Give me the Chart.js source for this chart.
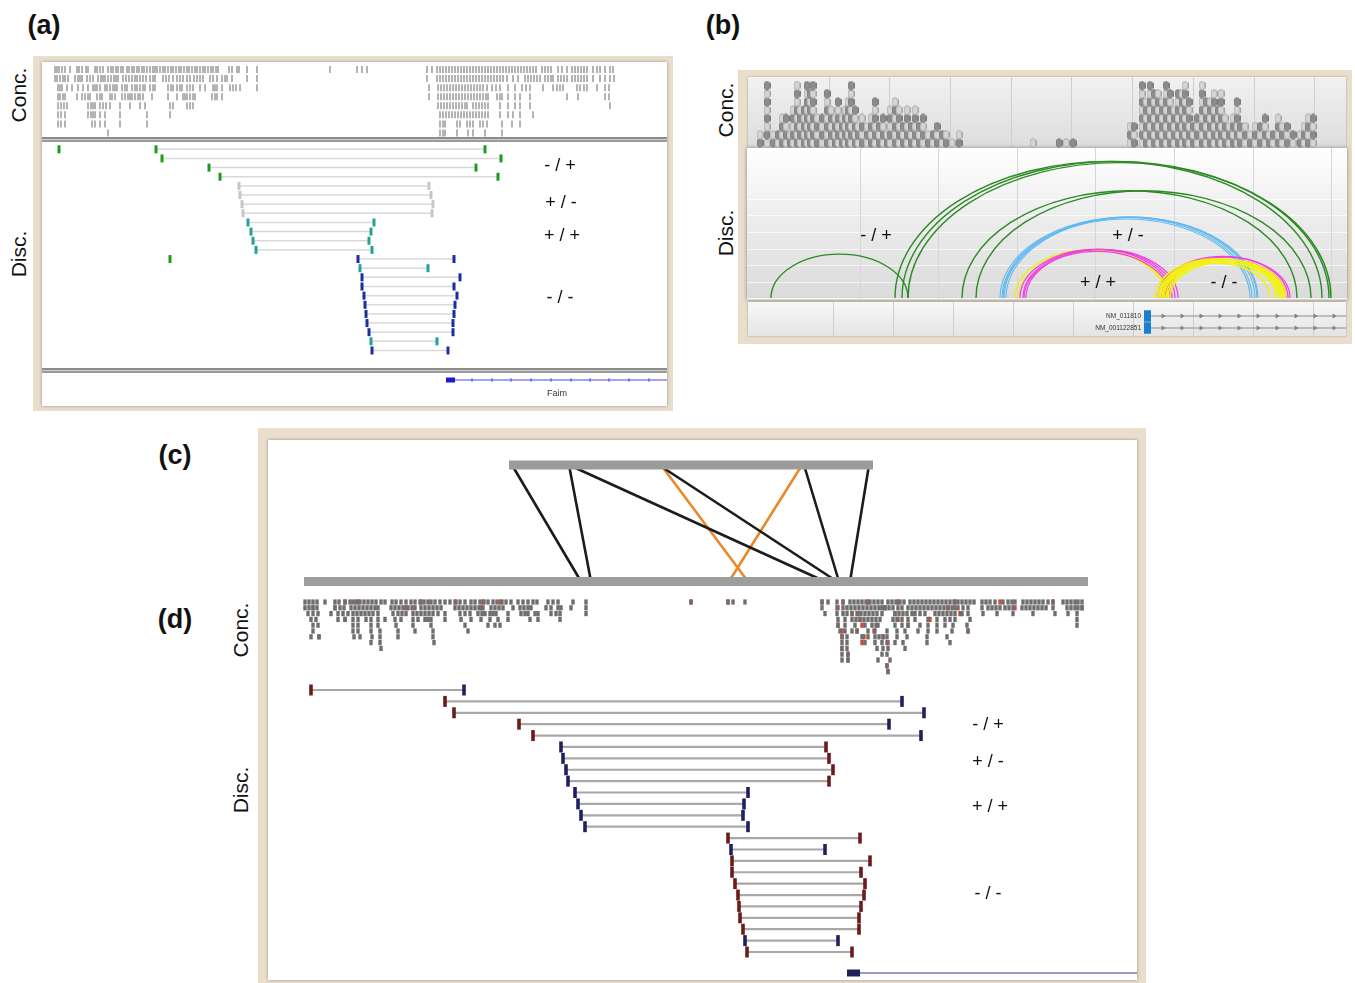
<!DOCTYPE html>
<html>
<head>
<meta charset="utf-8">
<script src="https://cdn.jsdelivr.net/npm/chart.js@4.4.1/dist/chart.umd.min.js"></script>
<style>
html, body { margin: 0; padding: 0; background: #fff; overflow: hidden; }
#page { position: relative; width: 1355px; height: 983px; overflow: hidden; font-family: "Liberation Sans", Arial, sans-serif; }
.d { position: absolute; box-sizing: border-box; }
.t { position: absolute; white-space: nowrap; transform: translate(-50%, -50%); color: #111; line-height: 1; }
.t.rot { transform: translate(-50%, -50%) rotate(-90deg); }
canvas { position: absolute; }
</style>
</head>
<body>
<div id="page"></div>
<script>
// ---------- (a) IGV view: concordant reads, one array of read positions per row ----------
const aConcRows = [
  [55,57,59,62,65,70,77,79,82,86,88,95,97,100,103,108,111,113,116,118,121,123,127,129,132,134,137,139,142,144,147,150,153,155,157,160,163,165,168,171,173,176,179,181,184,187,189,192,195,197,200,203,205,208,211,213,216,218,229,232,237,239,247,257,
   330,357,362,367,
   427,432,437,440,443,446,449,452,455,458,461,464,467,470,473,476,479,482,485,488,491,494,497,500,503,506,509,512,515,518,521,524,527,530,533,536,542,545,548,551,558,562,567,572,575,578,581,584,587,593,597,600,605,610,613],
  [55,57,60,63,65,68,75,78,80,82,87,90,93,98,101,103,105,108,111,114,116,118,123,126,129,132,135,137,140,143,146,150,153,155,163,166,169,173,177,180,183,187,190,194,197,200,203,210,213,217,222,225,227,232,247,257,
   427,437,440,443,446,449,452,455,458,461,464,467,470,473,476,479,482,485,488,491,494,497,500,503,507,513,518,525,528,531,534,537,540,545,548,551,553,558,561,564,567,572,575,578,581,584,587,593,600,605,610,614],
  [58,60,62,67,72,78,83,88,93,95,97,100,105,107,110,113,115,117,122,125,127,132,135,137,140,143,145,150,153,155,168,171,173,177,180,182,187,190,193,200,205,213,215,217,222,230,233,236,240,257,
   429,438,441,444,447,450,453,456,459,462,465,468,471,474,477,480,483,487,492,496,500,508,515,522,526,530,543,553,557,560,563,577,580,584,587,597,605,609],
  [58,60,63,65,77,82,85,88,90,97,100,102,110,112,115,122,125,128,130,132,135,138,140,143,152,168,177,183,185,187,190,193,195,212,215,217,222,
   429,438,441,444,447,450,453,456,459,462,465,468,471,474,477,480,483,486,488,497,500,502,508,515,520,530,567,578,605,609],
  [58,61,64,67,88,91,93,95,100,103,106,110,120,130,140,145,170,173,187,190,193,
   438,441,444,447,450,453,456,459,462,465,467,473,476,479,482,485,488,500,508,515,520,530,610],
  [58,61,65,88,91,93,95,100,105,120,147,170,
   440,443,446,449,452,455,458,461,464,467,470,473,476,479,482,485,488,500,508,513,520,533],
  [58,61,65,92,95,100,105,120,147,
   440,443,445,457,460,467,470,473,480,483,487,502,512,520],
  [108, 440,443,445,457,468,473,485,502]
];

// (a) discordant pairs, one per row: left mate, right mate, orientation
const aPairLeft  = [156,162,209,220,239,240,242,243,248,251,253,256,358,360,362,362,364,365,366,367,369,371,372];
const aPairRight = [485,501,476,498,429,431,433,432,374,371,369,372,454,428,460,454,457,455,454,453,453,437,448];
const aPairType  = ['-/+','-/+','-/+','-/+','+/-','+/-','+/-','+/-','+/+','+/+','+/+','+/+',
                    '-/-','+/+','-/-','-/-','-/-','-/-','-/-','-/-','-/-','+/+','-/-'];
const aSingles   = [[0, 59], [12, 170]];          // [row, position] mates without partner
const aGeneExon  = [446, 455];
const aGeneEnd   = 667;
const aGeneTicks = [472,492,511,531,551,571,590,609,629,649];
const aGeneName  = 'Faim';

// ---------- (b) arc view ----------
const bPileLeft = [[760,2],[767,8],[773,2],[778,2],[782,4],[786,4],[790,2],[793,5],[797,8],[800,5],[804,5],[807,8],[810,7],[813,8],
  [817,4],[822,4],[827,7],[831,5],[835,4],[838,6],[842,4],[845,5],[848,6],[851,8],[855,5],[858,3],[862,4],[867,3],[871,4],[875,6],
  [879,3],[883,4],[887,2],[890,5],[895,6],[899,5],[903,3],[907,5],[911,3],[915,5],[919,3],[923,4],[928,2],[933,2],[937,3],[942,2],
  [946,2],[952,1],[959,2]];
const bPileMid = [[1033,1],[1059,1],[1066,1],[1073,1]];
const bPileRight = [[1130,3],[1134,3],[1142,8],[1146,6],[1150,8],[1154,7],[1158,7],[1162,6],[1166,8],[1170,7],[1174,5],[1178,7],
  [1182,7],[1185,8],[1189,6],[1193,3],[1197,4],[1202,8],[1206,6],[1210,6],[1214,7],[1218,5],[1221,7],[1225,4],[1229,3],[1233,4],
  [1237,6],[1240,3],[1245,3],[1250,2],[1255,3],[1260,3],[1265,4],[1269,2],[1273,2],[1278,4],[1282,3],[1287,3],[1293,2],[1300,2],
  [1304,3],[1308,4],[1313,4]];

const bArcsGreen     = [[771,908],[895,1322],[902,1329],[908,1331],[962,1297],[976,1311]];
const bArcsBlue      = [[1000,1252],[1002,1255],[1004,1257],[1006,1258],[1003,1250]];
const bArcsYellowPP  = [[1015,1166],[1019,1168]];
const bArcsMagentaPP = [[1020,1172],[1023,1175],[1026,1178],[1024,1170]];
const bArcsMagentaMM = [[1158,1288],[1162,1290],[1165,1286]];
const bArcsYellowMM  = [[1155,1278],[1158,1280],[1160,1282],[1162,1283],[1164,1284],[1166,1286],[1163,1276],[1168,1280],[1170,1282],[1160,1270]];

const bTranscripts = ['NM_011810', 'NM_001122851'];
const bExon        = [1144, 1151];
const bGeneEnd     = 1346;
const bStrandMarks = [1163,1182,1201,1220,1239,1258,1277,1296,1315,1334];

// ---------- (c) reference vs genome ----------
const cRefBar     = [509, 873];
const cGenomeBar  = [304, 1088];
const cLinkTop    = [[512,569],[569,659],[804,869],[661,802]];
const cLinkBottom = [[581,591],[825,837],[839,850],[748,729]];
const cLinkColor  = ['#1c1c1c','#1c1c1c','#1c1c1c','#e8892c'];

// ---------- (d) IGV view ----------
const dConcRows = [
  [305,309,313,317,325,335,339,345,350,353,356,360,364,368,372,376,381,385,392,396,401,406,411,415,420,424,428,431,435,440,445,450,455,460,465,471,475,480,484,488,493,497,502,506,511,518,523,528,533,537,548,553,558,573,586,
   691,728,733,745,
   822,828,837,843,850,854,858,862,866,870,874,878,882,888,892,896,900,904,910,914,918,922,926,930,934,938,942,946,950,954,958,962,966,970,974,982,986,990,995,1003,1008,1012,1015,1023,1027,1031,1035,1039,1043,1048,1053,1063,1067,1071,1075,1078,1082],
  [305,309,313,317,335,340,344,351,355,359,363,367,371,375,378,391,395,399,403,408,412,415,421,425,429,433,437,441,455,459,463,467,471,475,479,483,491,495,499,503,513,520,524,528,531,546,551,558,561,571,586,
   822,837,843,847,851,855,859,863,867,871,875,879,882,885,889,893,898,902,908,912,916,920,924,928,932,936,940,944,948,952,955,958,963,968,982,988,992,996,1000,1005,1009,1013,1022,1026,1030,1034,1038,1042,1046,1053,1067,1071,1075,1078,1082],
  [308,313,318,331,338,343,348,353,357,361,365,369,373,378,393,398,402,406,413,417,421,425,429,433,438,445,460,465,470,478,482,485,490,493,496,508,521,525,528,535,538,551,556,560,586,
   825,837,843,847,852,857,861,865,869,873,877,882,895,899,903,907,912,915,920,925,935,939,943,947,951,955,962,968,983,997,1013,1033,1055,1068,1077],
  [311,316,338,345,353,358,366,371,378,385,395,401,413,418,425,428,431,445,461,471,481,490,498,508,530,538,560,
   838,845,852,856,860,864,868,872,876,880,893,897,902,908,915,928,937,945,950,955,970,1077],
  [313,318,353,358,371,378,396,413,431,465,488,495,500,
   838,845,855,865,872,876,878,895,902,908,920,928,937,945,953,967,1077],
  [313,353,358,371,380,398,415,433,468,
   840,845,852,857,868,875,887,897,905,918,928,937,952,968],
  [311,319,354,360,372,380,398,433,
   842,847,862,868,875,879,883,887,897,907,927,947],
  [371,380,434, 842,847,865,875,882,887,895,903,927,950],
  [381, 842,847,877,883,888,905],
  [842,848,882,887],
  [842,848,878,890],
  [887],
  [888]
];
const dConcMismatch = [[0,345],[0,358],[0,421],[0,456],[0,483],[0,500],[0,691],[0,728],[1,313],[1,335],[1,406],[1,481],[3,345],[6,319],
  [0,822],[0,843],[0,868],[0,898],[0,955],[0,1000],[0,1053],[1,838],[1,885],[1,948],[1,1015],[1,1082],[2,852],[2,858],[2,895],[2,960],
  [3,860],[3,898],[3,930],[4,838],[4,862],[4,908],[5,842],[5,857],[5,874],[5,968],[6,842],[6,864],[6,883],[7,862],[7,888],[8,842],
  [9,848],[10,848],[11,887],[12,888]];

const dPairLeft  = [311,445,454,519,533,561,563,566,568,575,578,581,585,728,731,732,732,735,738,739,740,743,745,747];
const dPairRight = [464,902,924,889,921,826,829,833,829,748,744,743,748,860,825,870,861,865,864,861,859,859,838,852];
const dPairType  = ['-/+','-/+','-/+','-/+','-/+','+/-','+/-','+/-','+/-','+/+','+/+','+/+','+/+',
                    '-/-','+/+','-/-','-/-','-/-','-/-','-/-','-/-','-/-','+/+','-/-'];
const dGeneExon = [847, 860];
const dGeneEnd  = 1137;

const orientLabels = ['- / +', '+ / -', '+ / +', '- / -'];

// ================= layout helpers =================
const page = document.getElementById('page');

function box(x, y, w, h, css) {
  const el = document.createElement('div');
  el.className = 'd';
  el.style.cssText = `left:${x}px;top:${y}px;width:${w}px;height:${h}px;` + (css || '');
  page.appendChild(el);
  return el;
}
function text(str, cx, cy, size, extra, rotate) {
  const el = document.createElement('div');
  el.className = 't' + (rotate ? ' rot' : '');
  el.textContent = str;
  el.style.left = cx + 'px';
  el.style.top = cy + 'px';
  el.style.fontSize = size + 'px';
  if (extra) el.style.cssText += extra;
  page.appendChild(el);
}
// y axis range that puts value v0 at pixel p0 and v1 at pixel p1 inside a canvas of given height
function yAxis(v0, p0, v1, p1, size) {
  const k = (p1 - p0) / (v1 - v0);
  if (k > 0) { const min = v0 - p0 / k; return { min, max: min + size / k, reverse: true }; }
  const kk = -k, max = v0 + p0 / kk;
  return { min: max - size / kk, max, reverse: false };
}
function chartAt(x, y, w, h, yr, datasets, plugins) {
  const cv = document.createElement('canvas');
  cv.width = w; cv.height = h;
  cv.style.cssText = `left:${x}px;top:${y}px;width:${w}px;height:${h}px;`;
  page.appendChild(cv);
  return new Chart(cv, {
    type: 'scatter',
    data: { datasets },
    options: {
      responsive: false, animation: false, events: [],
      layout: { padding: 0, autoPadding: false },
      plugins: { legend: { display: false }, tooltip: { enabled: false }, colors: { enabled: false } },
      scales: {
        x: { type: 'linear', display: false, bounds: 'data', min: x, max: x + w },
        y: { type: 'linear', display: false, bounds: 'data', min: yr.min, max: yr.max, reverse: yr.reverse }
      }
    },
    plugins: plugins || []
  });
}
function rowPoints(rows) {
  return rows.flatMap((r, i) => r.map(p => ({ x: p, y: i })));
}
function readSet(points, color, r, w) {
  return { data: points, pointStyle: 'line', pointRotation: 90, pointRadius: r, pointHoverRadius: r,
           pointBorderWidth: w, pointBorderColor: color, pointBackgroundColor: color, borderColor: color, clip: false };
}
function pairSets(left, right, type, colorOf, line, lineW, r, w) {
  return left.map((l, i) => ({
    data: [{ x: l, y: i }, { x: right[i], y: i }],
    showLine: true, borderColor: line, borderWidth: lineW,
    pointStyle: 'line', pointRotation: 90, pointRadius: r, pointHoverRadius: r,
    pointBorderWidth: w, pointBorderColor: colorOf(type[i]), pointBackgroundColor: 'transparent', clip: false
  }));
}
function segSet(from, to, yv, color, width) {
  return { data: [{ x: from, y: yv }, { x: to, y: yv }], showLine: true, borderColor: color,
           borderWidth: width, borderCapStyle: 'butt', pointRadius: 0, clip: false };
}

// ================= panel frames =================
const BEIGE = '#e9ddcb';
// (a)
box(33, 56, 640, 355, `background:${BEIGE};`);
box(42, 62, 625, 344, 'background:#fff;box-shadow:0 0 3px rgba(0,0,0,0.35);');
const sepCss = 'border-top:2px solid #8b8b8b;border-bottom:2px solid #9a9a9a;background:#d0d0d0;';
box(42, 137, 625, 5, sepCss);
box(42, 368, 625, 5, sepCss);
// (b)
box(738, 70, 614, 274, `background:${BEIGE};`);
box(748, 77, 598, 72,
  'background-image:repeating-linear-gradient(90deg,transparent 0 59.7px,#cfcfcf 59.7px 60.7px),linear-gradient(#f1f1f1,#dcdcdc);' +
  'background-position:21px 0,0 0;box-shadow:0 0 2px rgba(0,0,0,0.3);');
box(747, 148, 600, 152,
  'background-image:repeating-linear-gradient(90deg,transparent 0 77.6px,#d6d6d6 77.6px 78.6px),' +
  'repeating-linear-gradient(180deg,transparent 0 15.6px,rgba(255,255,255,0.7) 15.6px 16.6px),' +
  'linear-gradient(#ffffff 0%,#fafafa 12%,#ededed 45%,#dadada 100%);' +
  'background-position:35px 0,0 2px,0 0;box-shadow:0 0 4px rgba(0,0,0,0.4);');
box(748, 302, 598, 34, 'background-image:repeating-linear-gradient(90deg,transparent 0 59px,#cfcfcf 59px 60px),' +
  'linear-gradient(#f7f7f7,#e4e4e4);background-position:26px 0,0 0;box-shadow:0 0 2px rgba(0,0,0,0.3);');
// (c)/(d)
box(258, 428, 888, 560, `background:${BEIGE};`);
box(268, 440, 869, 540, 'background:#fff;box-shadow:0 0 3px rgba(0,0,0,0.35);');

// ================= charts =================
const ORIENT_A = { '-/+': '#1e9a1e', '+/-': '#c6c6c6', '+/+': '#21a39a', '-/-': '#1b2da3' };
const STRAND_D = { '-': '#6b1b1b', '+': '#20205e' };

// (a) concordant
chartAt(42, 62, 625, 76, yAxis(0, 7.5, 7, 71, 76),
  [readSet(rowPoints(aConcRows), '#b3b3b3', 3.5, 2)]);

// (a) discordant
chartAt(42, 143, 625, 225, yAxis(0, 6.3, 22, 207.5, 225), [
  ...pairSets(aPairLeft, aPairRight, aPairType, t => [ORIENT_A[t], ORIENT_A[t]], '#d9d9d9', 1.5, 4, 3),
  readSet(aSingles.map(([r, p]) => ({ x: p, y: r })), ORIENT_A['-/+'], 4, 3)
]);

// (a) gene track
chartAt(42, 373, 625, 33, yAxis(0, 7, 1, 17, 33), [
  segSet(aGeneExon[1], aGeneEnd, 0, '#4646ee', 1),
  segSet(aGeneExon[0], aGeneExon[1], 0, '#1a1ac8', 5),
  readSet(aGeneTicks.map(p => ({ x: p, y: 0 })), '#4646ee', 1.8, 1)
]);

// (b) concordant read piles with read glyphs
function glyph(fill, stroke) {
  const g = document.createElement('canvas');
  g.width = 7; g.height = 10;
  const c = g.getContext('2d');
  c.beginPath();
  c.moveTo(3.5, 0.5); c.lineTo(6.5, 2.5); c.lineTo(6.5, 7.5); c.lineTo(3.5, 9.5); c.lineTo(0.5, 7.5); c.lineTo(0.5, 2.5); c.closePath();
  c.fillStyle = fill; c.fill();
  c.strokeStyle = stroke; c.lineWidth = 1; c.stroke();
  return g;
}
const darkGlyph = glyph('#8c8c8c', '#7a7a7a');
const lightGlyph = glyph('#d4d4d4', '#a2a2a2');
const bPiles = [...bPileLeft, ...bPileMid, ...bPileRight];
const bReads = bPiles.flatMap(([p, n], ci) => Array.from({ length: n }, (_, l) => ({ x: p, y: l, dark: (l + ci) % 2 === 0 })));
chartAt(748, 77, 598, 71, yAxis(0, 66, 1, 57.8, 71), [{
  data: bReads, pointRadius: 4, pointHoverRadius: 4, clip: false,
  pointStyle: c => (c.raw && c.raw.dark) ? darkGlyph : lightGlyph
}]);

// (b) discordant arcs
const arcPlugin = {
  id: 'pairArcs',
  afterDatasetsDraw(chart) {
    const { ctx, scales: { x, y } } = chart;
    const base = y.getPixelForValue(0);
    chart.data.datasets.forEach(ds => {
      ctx.save();
      ctx.strokeStyle = ds.borderColor;
      ctx.lineWidth = ds.borderWidth;
      ds.arcs.forEach(([s, e]) => {
        const x0 = x.getPixelForValue(s), x1 = x.getPixelForValue(e);
        const rx = (x1 - x0) / 2;
        ctx.beginPath();
        ctx.ellipse(x0 + rx, base, rx, rx * 0.64, 0, Math.PI, 2 * Math.PI);
        ctx.stroke();
      });
      ctx.restore();
    });
  }
};
const arcSet = (arcs, color, w) => ({ arcs, borderColor: color, borderWidth: w, pointRadius: 0,
  data: arcs.flatMap(([s, e]) => [{ x: s, y: 0 }, { x: e, y: 0 }]) });
chartAt(748, 148, 598, 152, yAxis(0, 150, 1, 0, 152), [
  arcSet(bArcsGreen, '#2b8a23', 1.4),
  arcSet(bArcsBlue, '#5fb9f0', 1.1),
  arcSet(bArcsYellowPP, '#eeee10', 1.3),
  arcSet(bArcsMagentaPP, '#ee3fe0', 1.2),
  arcSet(bArcsMagentaMM, '#ee3fe0', 1.2),
  arcSet(bArcsYellowMM, '#f2f20e', 1.4)
], [arcPlugin]);

// (b) gene track
chartAt(748, 302, 598, 34, yAxis(0, 14, 1, 26, 34), [
  ...bTranscripts.map((_, i) => segSet(bExon[1], bGeneEnd, i, '#8c8c8c', 1)),
  ...bTranscripts.map((_, i) => segSet(bExon[0], bExon[1], i, '#1a7fd0', 11.5)),
  ...bTranscripts.map((_, i) => ({ data: bStrandMarks.map(p => ({ x: p, y: i })), pointStyle: 'triangle', pointRotation: 90,
      pointRadius: 2.3, pointHoverRadius: 2.3, pointBackgroundColor: '#777', pointBorderColor: '#777', pointBorderWidth: 0.5, clip: false }))
]);

// (c) reference-to-genome links
chartAt(268, 440, 869, 150, yAxis(1, 25, 0, 141.5, 150), [
  segSet(cRefBar[0], cRefBar[1], 1, '#9b9b9b', 9),
  segSet(cGenomeBar[0], cGenomeBar[1], 0, '#9d9d9d', 9),
  ...cLinkTop.map((t, i) => ({
    data: [{ x: t[0], y: 1 }, { x: cLinkBottom[i][0], y: 0 }, { x: cLinkBottom[i][1], y: 0 }, { x: t[1], y: 1 }, { x: t[0], y: 1 }],
    showLine: true, borderColor: cLinkColor[i], borderWidth: 2.6, borderJoinStyle: 'round', pointRadius: 0, clip: false
  }))
]);

// (d) concordant
chartAt(268, 596, 869, 84, yAxis(0, 6, 12, 75.6, 84), [
  readSet(rowPoints(dConcRows), '#6e6e6e', 2.6, 3.4),
  readSet(dConcMismatch.map(([r, p]) => ({ x: p, y: r })), '#d04a36', 2.6, 3.4)
]);

// (d) discordant
chartAt(268, 682, 869, 280, yAxis(0, 8, 23, 270, 280),
  pairSets(dPairLeft, dPairRight, dPairType, t => [STRAND_D[t[0]], STRAND_D[t[2]]], '#a8a8a8', 2.2, 5.5, 3.6));

// (d) gene track
chartAt(268, 964, 869, 16, yAxis(0, 9, 1, 0, 16), [
  segSet(dGeneExon[1], dGeneEnd, 0, '#7a7ab8', 1.5),
  segSet(dGeneExon[0], dGeneExon[1], 0, '#1f1f5c', 7)
]);

// ================= text =================
text('(a)', 44, 25, 27, 'font-weight:bold;');
text('(b)', 723, 25, 27, 'font-weight:bold;');
text('(c)', 175, 455, 27, 'font-weight:bold;');
text('(d)', 175, 619, 27, 'font-weight:bold;');

text('Conc.', 18, 95, 21, '', true);
text('Disc.', 18, 254, 21, '', true);
text('Conc.', 725, 110, 21, '', true);
text('Disc.', 725, 233, 21, '', true);
text('Conc.', 240, 630, 21, '', true);
text('Disc.', 240, 790, 21, '', true);

[[560, 165], [561, 202], [562, 235], [560, 297]].forEach(([x, y], i) => text(orientLabels[i], x, y, 18));
[[876, 235], [1128, 235], [1098, 282], [1224, 282]].forEach(([x, y], i) => text(orientLabels[i], x, y, 18));
[[988, 724], [988, 761], [990, 806], [988, 893]].forEach(([x, y], i) => text(orientLabels[i], x, y, 18));

text(aGeneName, 557, 393, 9, 'color:#333;');
text(bTranscripts[0], 1120, 316, 6.5, 'color:#333;transform:translate(-100%,-50%);left:1141px;');
text(bTranscripts[1], 1120, 328, 6.5, 'color:#333;transform:translate(-100%,-50%);left:1141px;');
</script>
</body>
</html>
